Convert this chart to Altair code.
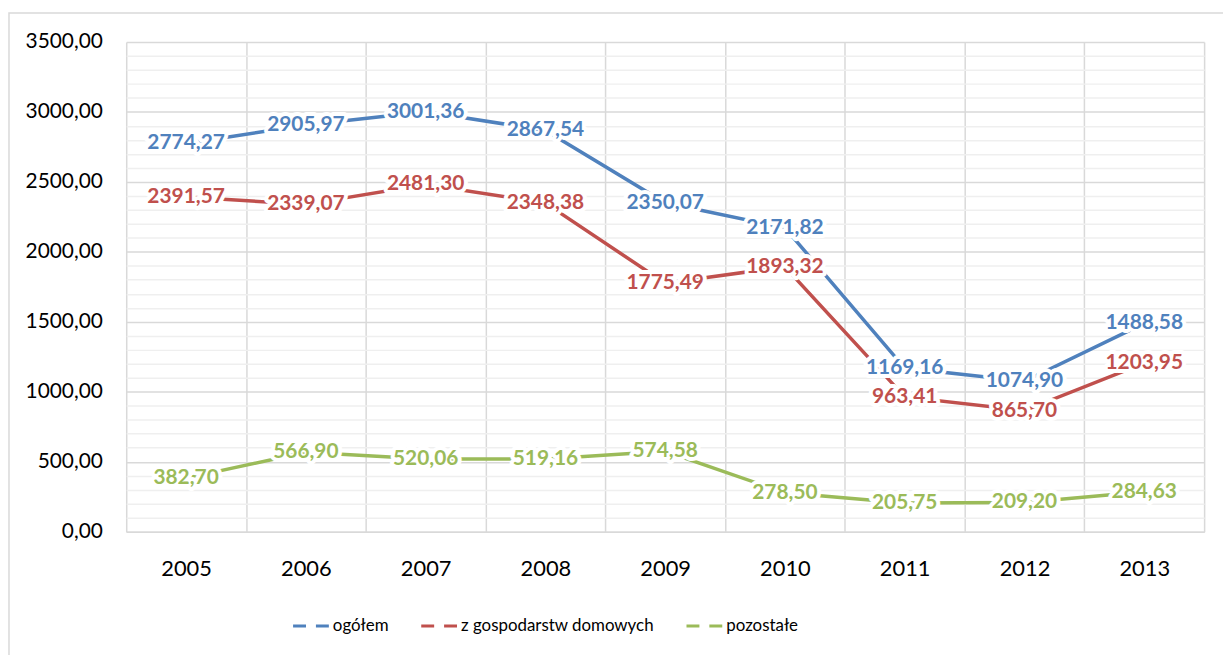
import altair as alt
import pandas as pd

years = ["2005", "2006", "2007", "2008", "2009", "2010", "2011", "2012", "2013"]
series_names = ["ogółem", "z gospodarstw domowych", "pozostałe"]
ogolem = [2774.27, 2905.97, 3001.36, 2867.54, 2350.07, 2171.82, 1169.16, 1074.90, 1488.58]
gosp = [2391.57, 2339.07, 2481.30, 2348.38, 1775.49, 1893.32, 963.41, 865.70, 1203.95]
pozostale = [382.70, 566.90, 520.06, 519.16, 574.58, 278.50, 205.75, 209.20, 284.63]
colors = ["#4F81BD", "#C0504D", "#9BBB59"]

rows = []
for name, vals in zip(series_names, [ogolem, gosp, pozostale]):
    for y, v in zip(years, vals):
        rows.append({"rok": y, "seria": name, "wartosc": v})
df = pd.DataFrame(rows)

FONT = "Lato"
major_vals = list(range(0, 3501, 500))
minor_vals = [v for v in range(100, 3500, 100) if v % 500]

xenc = alt.X("rok:N", sort=years, title=None,
             scale=alt.Scale(type="band", paddingInner=0, paddingOuter=0),
             axis=alt.Axis(tickBand="extent", grid=True, gridColor="#d9d9d9", gridWidth=1.5,
                           ticks=False, domainColor="#d9d9d9", domainWidth=1.5,
                           labelFont=FONT, labelFontSize=22, labelColor="#000000",
                           labelPadding=27, labelAngle=0))

yscale = alt.Scale(domain=[0, 3500], nice=False, zero=True)

color = alt.Color("seria:N", sort=series_names,
                  scale=alt.Scale(domain=series_names, range=colors),
                  legend=alt.Legend(orient="none", legendX=166, legendY=567, direction="horizontal",
                                    title=None, symbolType="stroke", symbolStrokeWidth=3,
                                    symbolDash=[13, 10], symbolSize=1450,
                                    labelFont=FONT, labelFontSize=17, labelColor="#000000",
                                    labelLimit=500, columnPadding=25, labelOffset=0))

minor = alt.Chart(df).mark_line(opacity=0).encode(
    x=xenc,
    y=alt.Y("wartosc:Q", scale=yscale,
            axis=alt.Axis(orient="right", values=minor_vals, grid=True, gridColor="#efefef",
                          gridWidth=1.5, labels=False, ticks=False, domain=False, title=None)),
    detail="seria:N",
)

lines = alt.Chart(df).mark_line(strokeWidth=3.5).encode(
    x=xenc,
    y=alt.Y("wartosc:Q", scale=yscale,
            axis=alt.Axis(orient="left", values=major_vals, grid=True, gridColor="#d9d9d9",
                          gridWidth=1.5, ticks=False, domain=False, title=None,
                          labelFont=FONT, labelFontSize=21, labelColor="#000000", labelPadding=24,
                          labelExpr="replace(format(datum.value, '.2f'), '.', ',')")),
    color=color,
)

lab_base = alt.Chart(df).transform_calculate(
    txt="replace(format(datum.wartosc, '.2f'), '.', ',')"
)

halo = lab_base.mark_text(font=FONT, fontSize=21, fontWeight="bold", stroke="white",
                          strokeWidth=8, strokeJoin="round", fill="white").encode(
    x=xenc, y=alt.Y("wartosc:Q", scale=yscale, axis=None), text="txt:N",
)

labels = lab_base.mark_text(font=FONT, fontSize=21, fontWeight="bold").encode(
    x=xenc, y=alt.Y("wartosc:Q", scale=yscale, axis=None), text="txt:N",
    color=alt.Color("seria:N", sort=series_names,
                    scale=alt.Scale(domain=series_names, range=colors), legend=None),
)

frame = alt.Chart(pd.DataFrame({"k": [0]})).mark_rect(
    fill=None, stroke="#d9d9d9", strokeWidth=1.5
).encode(
    x=alt.value(-118), x2=alt.value(1130), y=alt.value(-29), y2=alt.value(640)
)

chart = alt.layer(minor, lines, halo, labels, frame).resolve_axis(y="independent").properties(
    width=1085, height=493,
    autosize=alt.AutoSizeParams(type="none"),
    padding={"left": 119, "top": 32, "right": 19, "bottom": 122},
    background="white",
).configure_view(stroke=None)

chart.save("out.html", embed_options={"renderer": "svg", "actions": False})
